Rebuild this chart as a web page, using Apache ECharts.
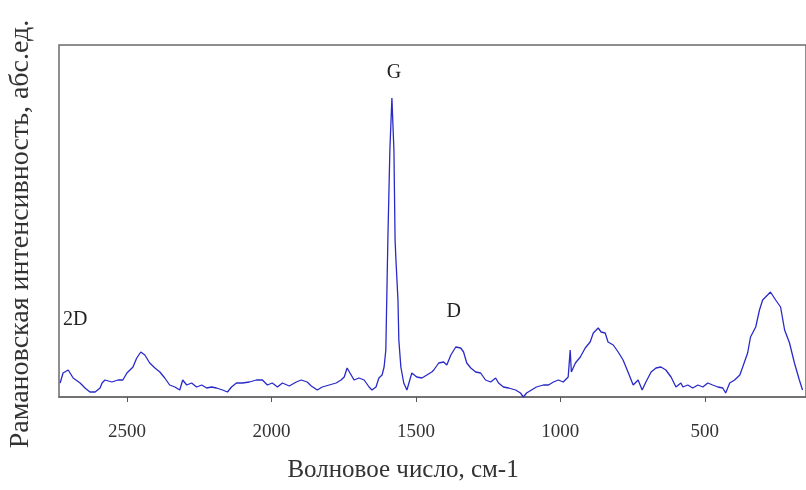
<!DOCTYPE html>
<html>
<head>
<meta charset="utf-8">
<script src="https://cdn.jsdelivr.net/npm/echarts@6/dist/echarts.min.js"></script>
<style>
  html, body { margin: 0; padding: 0; background: #fff; }
  #raman { width: 806px; height: 490px; }
</style>
</head>
<body>
<div id="raman"></div>
<script>
// спектр: волновое число (см-1) и интенсивность (отн.)
var wavenumber = [2731, 2721, 2703, 2686, 2662, 2645, 2628, 2610, 2593, 2586, 2576, 2552, 2531, 2514, 2500,
    2479, 2466, 2452, 2438, 2421, 2403, 2386, 2369, 2352, 2334, 2317, 2307, 2293, 2276, 2259, 2241, 2224,
    2207, 2190, 2169, 2152, 2138, 2121, 2100, 2076, 2052, 2031, 2014, 1997, 1979, 1962, 1938, 1914, 1897,
    1876, 1862, 1841, 1824, 1800, 1776, 1759, 1748, 1738, 1724, 1714, 1697, 1679, 1662, 1652, 1638, 1628,
    1617, 1610, 1604, 1597, 1590, 1583, 1576, 1572, 1569, 1562, 1559, 1552, 1542, 1531, 1514, 1497, 1479,
    1462, 1445, 1438, 1421, 1404, 1393, 1379, 1362, 1345, 1335, 1324, 1310, 1293, 1276, 1259, 1241, 1224,
    1214, 1197, 1179, 1155, 1138, 1128, 1117, 1100, 1083, 1059, 1041, 1024, 1007, 990, 973, 966, 962, 948,
    931, 914, 897, 886, 869, 859, 845, 835, 817, 800, 783, 766, 748, 731, 717, 704, 686, 669, 652, 635, 617,
    600, 583, 576, 559, 542, 524, 507, 490, 473, 455, 438, 428, 414, 397, 379, 369, 352, 342, 324, 311, 300,
    283, 273, 255, 238, 224, 207, 190, 173, 162];
var intensity = [14, 24, 27, 19, 14, 9, 5, 5, 9, 14, 17, 15, 17, 17, 24,
    30, 39, 45, 42, 34, 29, 25, 19, 12, 10, 7, 17, 12, 14, 10, 12, 9,
    10, 9, 7, 5, 10, 14, 14, 15, 17, 17, 12, 14, 10, 14, 11, 15, 17,
    15, 11, 7, 10, 12, 14, 17, 20, 29, 22, 17, 19, 17, 10, 7, 10, 19,
    22, 30, 47, 157, 247, 299, 247, 157, 137, 97, 57, 30, 14, 7, 24, 20, 19,
    22, 25, 27, 34, 35, 32, 42, 50, 49, 45, 34, 29, 25, 24, 17, 15, 19,
    14, 10, 9, 7, 4, 0, 4, 7, 10, 12, 12, 15, 17, 15, 20, 47, 25, 34,
    40, 49, 55, 64, 69, 65, 64, 55, 52, 45, 37, 25, 12, 17, 7, 15, 25, 29, 30, 27, 20,
    10, 14, 10, 12, 9, 12, 10, 14, 12, 10, 9, 4, 14, 17, 22, 30, 44, 60, 70, 87, 97,
    102, 105, 97, 90, 67, 54, 34, 17, 7];
var tickValues = [500, 1000, 1500, 2000, 2500];
// подписи полос
var peakNames = ['2D', 'G', 'D'];
var peakPos = [[2679, 77], [1576, 324], [1369, 85]];

var serif = '"Liberation Serif", "DejaVu Serif", serif';

var chart = echarts.init(document.getElementById('raman'));

var points = wavenumber.map(function (w, i) { return [w, intensity[i]]; });
var marks = peakNames.map(function (n, i) {
    return { name: n, coord: peakPos[i] };
});

var option = {
    backgroundColor: '#fff',
    animation: false,
    grid: {
        left: 59, right: -3, top: 45, bottom: 93,
        show: true, borderColor: '#6a6a6a', borderWidth: 1.5
    },
    title: {
        text: 'Волновое число, см-1',
        left: 'center',
        top: 453,
        textStyle: { fontFamily: serif, fontSize: 25, fontWeight: 'normal', color: '#333' }
    },
    graphic: [{
        type: 'text',
        x: 21, y: 234,
        rotation: Math.PI / 2,
        style: {
            text: 'Рамановская интенсивность, абс.ед.',
            fill: '#333',
            font: '28px ' + serif,
            align: 'center',
            verticalAlign: 'middle'
        }
    }],
    xAxis: {
        type: 'value',
        inverse: true,
        min: 150,
        max: 2735,
        splitLine: { show: false },
        axisLine: { show: true, onZero: false, lineStyle: { color: '#6a6a6a', width: 1.5 } },
        axisTick: { show: true, length: 5, customValues: tickValues, lineStyle: { color: '#555' } },
        axisLabel: {
            customValues: tickValues,
            formatter: function (v) { return String(v); },
            margin: 26,
            fontFamily: serif, fontSize: 19, color: '#333'
        }
    },
    yAxis: {
        type: 'value',
        min: 0,
        max: 352,
        splitLine: { show: false },
        axisLine: { show: false },
        axisTick: { show: false },
        axisLabel: { show: false }
    },
    series: [{
        type: 'line',
        data: points,
        showSymbol: false,
        lineStyle: { color: '#2a2ac8', width: 1.3 },
        markPoint: {
            symbol: 'circle',
            symbolSize: 0,
            label: {
                show: true,
                formatter: '{b}',
                fontFamily: serif, fontSize: 20, color: '#222'
            },
            data: marks
        }
    }]
};

chart.setOption(option);
</script>
</body>
</html>
